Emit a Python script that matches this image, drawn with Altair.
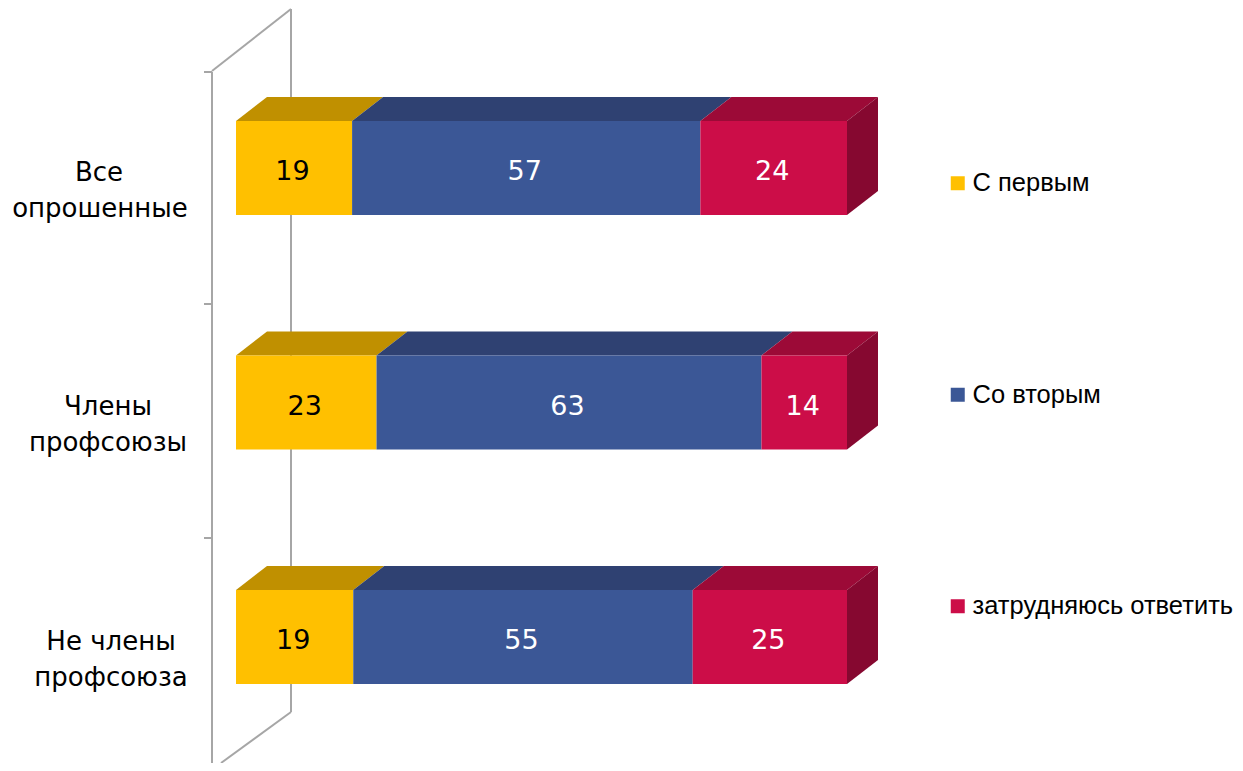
import altair as alt
import pandas as pd

# ---- chart values ----
categories = ["Все опрошенные", "Члены профсоюзы", "Не члены профсоюза"]
label_line1 = ["Все", "Члены", "Не члены"]
label_line2 = ["опрошенные", "профсоюзы", "профсоюза"]
series = ["С первым", "Со вторым", "затрудняюсь ответить"]
first = [19, 23, 19]
second = [57, 63, 55]
third = [24, 14, 25]
front_colors = ["#FFC000", "#3B5796", "#CC0D48"]
top_colors = ["#C09000", "#2F4172", "#9C0A37"]
side_color = "#860830"
text_colors = ["#000000", "#FFFFFF", "#FFFFFF"]

# ---- layout: the plot area covers the page, scales are fixed to it ----
W, H = 1227, 755
X0_PX, X1_PX = 228.0, 839.0      # share 0 and share 1
Y0_PX, STEP_PX = 160.0, 234.5    # centre of first row, row step
HALF = 47 / STEP_PX
DX = 31 / (X1_PX - X0_PX)
DY = 24 / STEP_PX


def xv(px_page):
    return (px_page - 8 - X0_PX) / (X1_PX - X0_PX)


def yv(px_page):
    return (px_page - 8 - Y0_PX) / STEP_PX


x_scale = alt.Scale(domain=[xv(8), xv(8 + W)], range=[0, W], nice=False, zero=False)
y_scale = alt.Scale(domain=[yv(8), yv(8 + H)], range=[0, H], nice=False, zero=False)

front, top, side, value_labels = [], [], [], []
rows = list(zip(first, second, third))
for i, row in enumerate(rows):
    total = sum(row)
    start = 0.0
    for j, v in enumerate(row):
        end = start + v / total
        key = f"{i}-{j}"
        front.append(dict(series=series[j], x=start, x2=end, y=i - HALF, y2=i + HALF))
        top.append(dict(k=key, c=top_colors[j], y=i - HALF, x=start, x2=end))
        top.append(dict(k=key, c=top_colors[j], y=i - HALF - DY, x=start + DX, x2=end + DX))
        value_labels.append(dict(x=(start + end) / 2 - 1.5 / (X1_PX - X0_PX), y=i + 4 / STEP_PX, t=str(v), c=text_colors[j]))
        start = end
    side.append(dict(k=i, x=1.0, y=i - HALF, y2=i + HALF))
    side.append(dict(k=i, x=1.0 + DX, y=i - HALF - DY, y2=i + HALF - DY))

# ---- wall outline behind the bars ----
wall_segments = [
    [(212, 72), (212, 763)],
    [(291, 9), (291, 712)],
    [(212, 71), (291, 9)],
    [(221, 763), (291, 712)],
    [(204, 72), (212, 72)],
    [(204, 304), (212, 304)],
    [(204, 538), (212, 538)],
]
wall = []
for n, seg in enumerate(wall_segments):
    for order, (px, py) in enumerate(seg):
        wall.append(dict(k=n, o=order, x=xv(px), y=yv(py)))

# ---- category labels ----
line1_center_px = [99, 108, 111]
line2_center_px = [100, 108, 111]
cat_labels = []
for i in range(3):
    cat_labels.append(dict(x=xv(line1_center_px[i]), y=i + 4.5 / STEP_PX, t=label_line1[i]))
    cat_labels.append(dict(x=xv(line2_center_px[i]), y=i + 40.5 / STEP_PX, t=label_line2[i]))

X = lambda f="x": alt.X(f"{f}:Q", scale=x_scale, axis=None, stack=None)
Y = lambda f="y": alt.Y(f"{f}:Q", scale=y_scale, axis=None, stack=None)

wall_layer = alt.Chart(pd.DataFrame(wall)).mark_line(color="#A6A6A6", strokeWidth=2).encode(
    x=X(), y=Y(), detail="k:N", order="o:Q"
)
top_layer = alt.Chart(pd.DataFrame(top)).mark_area(orient="horizontal").encode(
    y=Y(), x=X(), x2="x2:Q", detail="k:N", color=alt.Color("c:N", scale=None)
)
side_layer = alt.Chart(pd.DataFrame(side)).mark_area(orient="vertical", color=side_color).encode(
    x=X(), y=Y(), y2="y2:Q", detail="k:N"
)
front_layer = alt.Chart(pd.DataFrame(front)).mark_rect().encode(
    x=X(), x2="x2:Q", y=Y(), y2="y2:Q",
    color=alt.Color(
        "series:N",
        scale=alt.Scale(domain=series, range=front_colors),
        sort=series,
        legend=alt.Legend(
            title=None, orient="none", legendX=937, legendY=162.5, padding=0,
            symbolType="square", symbolSize=196, symbolStrokeWidth=0,
            labelFont="Liberation Sans", labelFontSize=25.5, labelColor="#000000",
            labelLimit=400, labelOffset=2, rowPadding=184.5,
        ),
    ),
)
value_layer = alt.Chart(pd.DataFrame(value_labels)).mark_text(
    font="DejaVu Sans", fontSize=27, align="center", baseline="middle"
).encode(x=X(), y=Y(), text="t:N", color=alt.Color("c:N", scale=None))
cat_layer = alt.Chart(pd.DataFrame(cat_labels)).mark_text(
    font="DejaVu Sans", fontSize=26, align="center", baseline="middle", color="#000000"
).encode(x=X(), y=Y(), text="t:N")

chart = (
    alt.layer(wall_layer, top_layer, side_layer, front_layer, value_layer, cat_layer)
    .resolve_scale(color="independent")
    .properties(width=W, height=H, padding=0, autosize=alt.AutoSizeParams(type="none"),
                background="#FFFFFF")
    .configure_view(stroke=None)
)
chart.save("out.html", embed_options={"renderer": "svg", "actions": False})
